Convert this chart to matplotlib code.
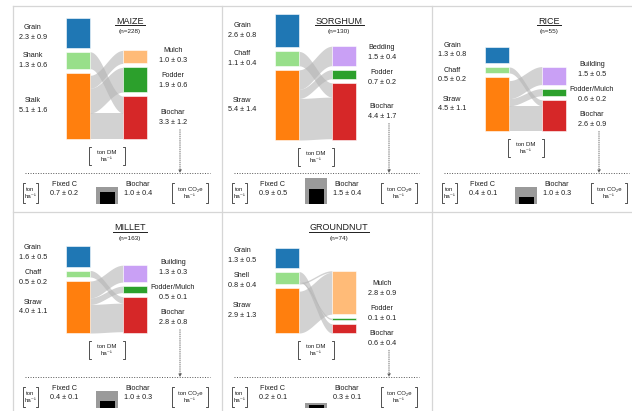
import matplotlib
matplotlib.use("Agg")
import matplotlib.pyplot as plt
import numpy as np

plt.rcParams["font.family"] = ["Liberation Sans", "DejaVu Sans"]

# ---------------------------------------------------------------- data
crops = ["MAIZE", "SORGHUM", "RICE", "MILLET", "GROUNDNUT"]
sample_sizes = [228, 130, 55, 163, 74]

# crop components (ton DM / ha)
component_names = [["Grain", "Shank", "Stalk"],
                   ["Grain", "Chaff", "Straw"],
                   ["Grain", "Chaff", "Straw"],
                   ["Grain", "Chaff", "Straw"],
                   ["Grain", "Shell", "Straw"]]
component_mean = [[2.3, 1.3, 5.1],
                  [2.6, 1.1, 5.4],
                  [1.3, 0.5, 4.5],
                  [1.6, 0.5, 4.0],
                  [1.3, 0.8, 2.9]]
component_sd = [[0.9, 0.6, 1.6],
                [0.8, 0.4, 1.4],
                [0.8, 0.2, 1.1],
                [0.5, 0.2, 1.1],
                [0.5, 0.4, 1.3]]

# residue uses (ton DM / ha)
use_names = [["Mulch", "Fodder", "Biochar"],
             ["Bedding", "Fodder", "Biochar"],
             ["Building", "Fodder/Mulch", "Biochar"],
             ["Building", "Fodder/Mulch", "Biochar"],
             ["Mulch", "Fodder", "Biochar"]]
use_mean = [[1.0, 1.9, 3.3],
            [1.5, 0.7, 4.4],
            [1.5, 0.6, 2.6],
            [1.3, 0.5, 2.8],
            [2.8, 0.1, 0.6]]
use_sd = [[0.3, 0.6, 1.2],
          [0.4, 0.2, 1.7],
          [0.5, 0.2, 0.9],
          [0.3, 0.1, 0.8],
          [0.9, 0.1, 0.4]]

# carbon outcome
fixed_c_mean = [0.7, 0.9, 0.4, 0.4, 0.2]
fixed_c_sd = [0.2, 0.5, 0.1, 0.1, 0.1]
biochar_co2_mean = [1.0, 1.5, 1.0, 1.0, 0.3]
biochar_co2_sd = [0.4, 0.4, 0.3, 0.3, 0.1]

# ---------------------------------------------------------------- style
component_colors = ["#1f77b4", "#98df8a", "#ff7f0e"]
use_colors = [["#ffbb78", "#2ca02c", "#d62728"],
              ["#c9a0f5", "#2ca02c", "#d62728"],
              ["#c9a0f5", "#2ca02c", "#d62728"],
              ["#c9a0f5", "#2ca02c", "#d62728"],
              ["#ffbb78", "#2ca02c", "#d62728"]]
FLOW_COLOR = "#b4b4b4"
TXT = "#1e1e1e"
FS = 5.2

# panel geometry (pixels)
cell_x = [13, 222, 432, 13, 222]
cell_y = [6, 6, 6, 212, 212]
bar_bottom = [133, 134, 125, 121, 121]
px_per_unit = [13, 13, 12, 13, 15.5]
dotted_y = [167, 167, 167, 165, 165]
GAP = 4
LBAR_X, RBAR_X, BAR_W = 65, 122, 24
LLAB_X, RLAB_X = 20, 160

fig = plt.figure(figsize=(6.32, 4.11), dpi=100)
ax = fig.add_axes([0, 0, 1, 1])
ax.set_xlim(0, 632)
ax.set_ylim(411, 0)
ax.axis("off")

# cell grid
grid_kw = dict(color="#d6d6d6", lw=0.9, zorder=0)
for yy in (6, 212):
    ax.plot([13, 632], [yy, yy], **grid_kw)
for xx in (13, 222, 432):
    ax.plot([xx, xx], [6, 411], **grid_kw)


def stack(values, bottom, scale):
    """Return (top, height) of each segment, stacked upward from bottom."""
    h = [v * scale for v in values]
    tops = [0.0] * len(values)
    y = bottom
    for i in range(len(values) - 1, -1, -1):
        tops[i] = y - h[i]
        y = tops[i] - GAP
    return tops, h


def relax(centers, min_gap, n_iter=200):
    c = list(centers)
    for _ in range(n_iter):
        moved = False
        for i in range(len(c) - 1):
            d = c[i + 1] - c[i]
            if d < min_gap:
                push = (min_gap - d) / 2
                c[i] -= push
                c[i + 1] += push
                moved = True
        if not moved:
            break
    return c


def band(x0, x1, a_top, a_bot, b_top, b_bot):
    t = np.linspace(0, 1, 60)
    s = (1 - np.cos(np.pi * t)) / 2
    xs = x0 + (x1 - x0) * t
    ax.fill_between(xs, a_top + (b_top - a_top) * s, a_bot + (b_bot - a_bot) * s,
                    color=FLOW_COLOR, alpha=0.6, lw=0, zorder=1)


def bracket(xc, ytop, w, h, line1, line2, fs=4.3):
    xl, xr = xc - w / 2, xc + w / 2
    kw = dict(color="#333333", lw=0.6, zorder=4)
    ax.plot([xl + 2, xl, xl, xl + 2], [ytop, ytop, ytop + h, ytop + h], **kw)
    ax.plot([xr - 2, xr, xr, xr - 2], [ytop, ytop, ytop + h, ytop + h], **kw)
    ax.text(xc, ytop + h / 2, f"{line1}\n{line2}", ha="center", va="center",
            fontsize=fs, color=TXT, linespacing=1.5, zorder=4)


renderer = fig.canvas.get_renderer()

for k, crop in enumerate(crops):
    ox, oy = cell_x[k], cell_y[k]
    sc = px_per_unit[k]
    bot = oy + bar_bottom[k]

    # title
    t = ax.text(ox + 117, oy + 15, crop, ha="center", va="center", fontsize=6.5,
                color=TXT, zorder=4)
    bb = t.get_window_extent(renderer)
    ax.plot([bb.x0 - 1, bb.x1 + 1], [oy + 19.5, oy + 19.5], color=TXT, lw=0.7)
    ax.text(ox + 117, oy + 26, f"(n={sample_sizes[k]})", ha="center", va="center",
            fontsize=4.6, color=TXT)

    # stacked bars
    ltops, lh = stack(component_mean[k], bot, sc)
    rtops, rh = stack(use_mean[k], bot, sc)
    lx = ox + LBAR_X
    rx = ox + RBAR_X
    ax.bar([lx] * 3, lh, width=BAR_W, bottom=ltops, color=component_colors,
           edgecolor="white", linewidth=0.4, zorder=3)
    ax.bar([rx] * 3, rh, width=BAR_W, bottom=rtops, color=use_colors[k],
           edgecolor="white", linewidth=0.4, zorder=3)

    # residue flows: chaff/shell feeds uses from the bottom of the list,
    # straw/stalk feeds them from the top
    remaining = list(use_mean[k])
    flows = {1: [], 2: []}
    for j in (2, 1, 0):
        amt = min(component_mean[k][1] - sum(a for _, a in flows[1]), remaining[j])
        if amt > 0:
            flows[1].append((j, amt))
            remaining[j] -= amt
    for j in (0, 1, 2):
        amt = min(component_mean[k][2] - sum(a for _, a in flows[2]), remaining[j])
        if amt > 0:
            flows[2].append((j, amt))
            remaining[j] -= amt

    # target-side offsets: chaff enters at top of each use segment
    t_off = [rtops[j] for j in range(3)]
    t_pos = {}
    for src in (1, 2):
        for j, amt in flows[src]:
            t_pos[(src, j)] = (t_off[j], t_off[j] + amt * sc)
            t_off[j] += amt * sc
    # source side: chaff from its top, straw stacked from its bottom
    y = ltops[1]
    for j, amt in flows[1]:
        a0, a1 = y, y + amt * sc
        y = a1
        b0, b1 = t_pos[(1, j)]
        band(lx + BAR_W / 2, rx - BAR_W / 2, a0, a1, b0, b1)
    y = ltops[2] + lh[2]
    for j, amt in reversed(flows[2]):
        a0, a1 = y - amt * sc, y
        y = a0
        b0, b1 = t_pos[(2, j)]
        band(lx + BAR_W / 2, rx - BAR_W / 2, a0, a1, b0, b1)

    # labels
    lc = relax([ltops[i] + lh[i] / 2 for i in range(3)], 25)
    for i in range(3):
        ax.text(ox + LLAB_X, lc[i],
                f"{component_names[k][i]}\n{component_mean[k][i]:.1f} ± {component_sd[k][i]:.1f}",
                ha="center", va="center", fontsize=FS, color=TXT, linespacing=1.55)
    rc = relax([rtops[i] + rh[i] / 2 for i in range(3)], 25)
    for i in range(3):
        ax.text(ox + RLAB_X, rc[i],
                f"{use_names[k][i]}\n{use_mean[k][i]:.1f} ± {use_sd[k][i]:.1f}",
                ha="center", va="center", fontsize=FS, color=TXT, linespacing=1.55)

    # unit bracket under the bars
    bracket(ox + 94, bot + 8, 36, 18, "ton DM", "ha⁻¹")

    # dotted separator and arrow from biochar
    dy = oy + dotted_y[k]
    ax.plot([ox + 12, ox + 197], [dy, dy], color="#555555", lw=0.7,
            linestyle=(0, (1, 1.6)))
    ax.annotate("", xy=(ox + 167, dy), xytext=(ox + 167, rc[2] + 12),
                arrowprops=dict(arrowstyle="-|>", color="#555555", lw=0.6,
                                linestyle=(0, (1, 1.6)), mutation_scale=4,
                                shrinkA=0, shrinkB=0))

    # carbon summary row
    bracket(ox + 17.5, dy + 10, 15, 20, "ton", "ha⁻¹")
    ax.text(ox + 51, dy + 16, f"Fixed C\n{fixed_c_mean[k]:.1f} ± {fixed_c_sd[k]:.1f}",
            ha="center", va="center", fontsize=FS, color=TXT, linespacing=1.55)
    box_bottom = dy + 31
    ax.bar(ox + 94, biochar_co2_mean[k] * 17, width=22,
           bottom=box_bottom - biochar_co2_mean[k] * 17, color="#9a9a9a", zorder=3)
    ax.bar(ox + 94, fixed_c_mean[k] * 17, width=15,
           bottom=box_bottom - fixed_c_mean[k] * 17, color="#000000", zorder=4)
    ax.text(ox + 125, dy + 16,
            f"Biochar\n{biochar_co2_mean[k]:.1f} ± {biochar_co2_sd[k]:.1f}",
            ha="center", va="center", fontsize=FS, color=TXT, linespacing=1.55)
    bracket(ox + 177, dy + 10, 36, 20, "ton CO₂e", "ha⁻¹")

fig.savefig("out.png", dpi=100)
